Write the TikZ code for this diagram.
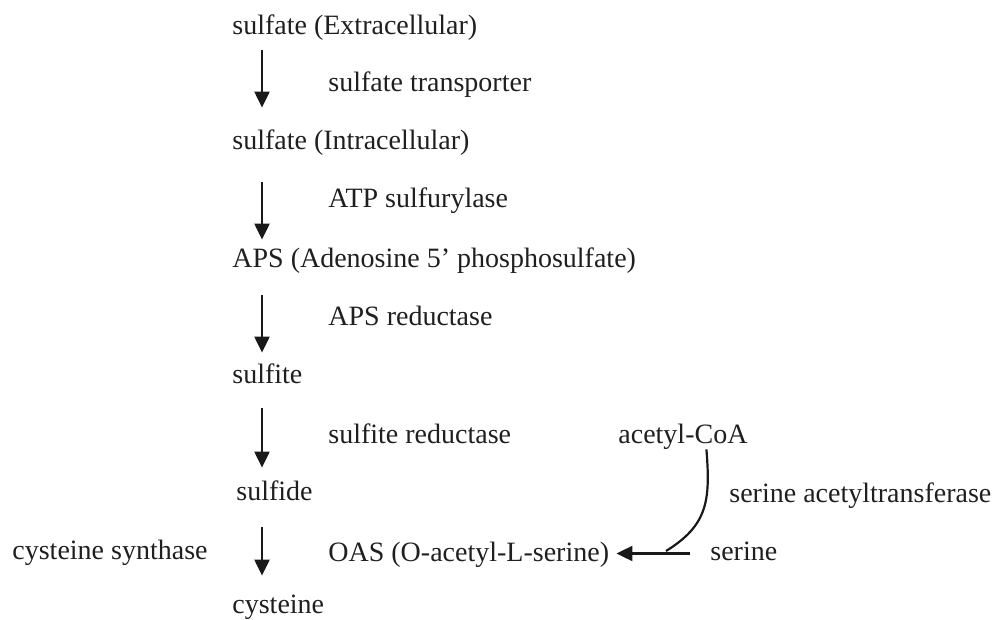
\documentclass[tikz,border=0pt]{standalone}
\usepackage{fontspec}
\setmainfont{Liberation Serif}
\usetikzlibrary{arrows.meta}
\begin{document}
\begin{tikzpicture}[x=0.5pt,y=-0.5pt,
  lbl/.style={anchor=base west, inner sep=0pt, text height=9.5pt, text depth=3pt,
              font=\fontsize{14}{16}\selectfont, text=black!88},
  arr/.style={line width=1.1pt, draw=black!90, -{Triangle[length=8pt,width=7.5pt]}},
  link/.style={line width=1.1pt, draw=black!90}]
\useasboundingbox (0,0) rectangle (995,620);
\node[lbl] (ext)     at (232,35)  {sulfate (Extracellular)};
\node[lbl] (st)      at (328,92)  {sulfate transporter};
\node[lbl] (int)     at (232,150) {sulfate (Intracellular)};
\node[lbl] (atp)     at (328,208) {ATP sulfurylase};
\node[lbl] (aps)     at (232,267) {APS (Adenosine 5’ phosphosulfate)};
\node[lbl] (apsr)    at (328,325) {APS reductase};
\node[lbl] (sulfite) at (232,383) {sulfite};
\node[lbl] (sr)      at (328,443) {sulfite reductase};
\node[lbl] (acoa)    at (618,443) {acetyl-CoA};
\node[lbl] (sulfide) at (236,500) {sulfide};
\node[lbl] (sat)     at (729,502) {serine acetyltransferase};
\node[lbl] (cs)      at (12,559)  {cysteine synthase};
\node[lbl] (oas)     at (328,561) {OAS (O-acetyl-L-serine)};
\node[lbl] (serine)  at (710,560) {serine};
\node[lbl] (cys)     at (232,613) {cysteine};
\coordinate (ax) at (262,0);
\coordinate (j) at (666,551);
\draw[arr, shorten <=4.5pt, shorten >=11.5pt] (ax |- ext.south) -- (ax |- int.north);
\draw[arr, shorten <=13pt, shorten >=4pt] (ax |- int.south) -- (ax |- aps.north);
\draw[arr, shorten <=11pt, shorten >=5.5pt] (ax |- aps.south) -- (ax |- sulfite.north);
\draw[arr, shorten <=9.5pt, shorten >=6.5pt] (ax |- sulfite.south) -- (ax |- sulfide.north);
\draw[arr, shorten <=10.5pt, shorten >=9pt] (ax |- sulfide.south) -- (ax |- cys.north);
\draw[arr, shorten <=10pt, shorten >=3.5pt] (serine.west) -- (serine.west -| oas.east);
\draw[link] ([xshift=11.75pt]acoa.south) .. controls +(4,51) and +(42,-26) .. (j);
\end{tikzpicture}
\end{document}
